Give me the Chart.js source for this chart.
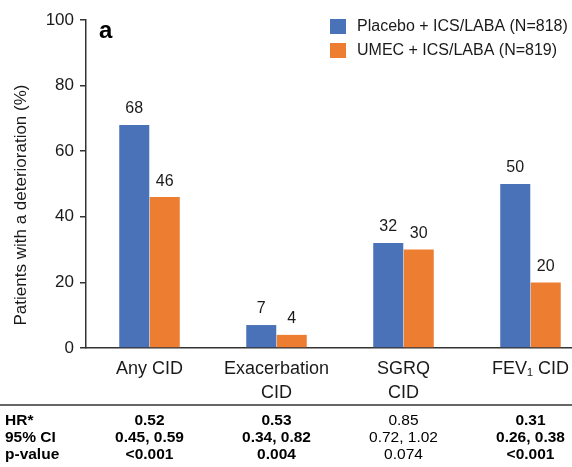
<!DOCTYPE html>
<html>
<head>
<meta charset="utf-8">
<script src="https://cdn.jsdelivr.net/npm/chart.js@4.4.1/dist/chart.umd.min.js"></script>
<style>
html,body{margin:0;padding:0;background:#fff;overflow:hidden;}
#wrap{width:572px;height:467px;overflow:hidden;position:relative;}
canvas{display:block;}
</style>
</head>
<body>
<div id="wrap"><canvas id="c" width="600" height="467" style="width:600px;height:467px"></canvas></div>
<script>
const categories = [['Any CID'], ['Exacerbation', 'CID'], ['SGRQ', 'CID'], ['FEV\u2081 CID']];
const placeboValues = [68, 7, 32, 50];
const umecValues = [46, 4, 30, 20];
const seriesLabels = ['Placebo + ICS/LABA (N=818)', 'UMEC + ICS/LABA (N=819)'];
const yTicks = [0, 20, 40, 60, 80, 100];
const yTitle = 'Patients with a deterioration (%)';
const rowLabels = ['HR*', '95% CI', 'p-value'];
const hrValues = ['0.52', '0.53', '0.85', '0.31'];
const ciValues = ['0.45, 0.59', '0.34, 0.82', '0.72, 1.02', '0.26, 0.38'];
const pValues = ['<0.001', '0.004', '0.074', '<0.001'];

const BLUE = '#4a72b8';
const ORANGE = '#ed7d31';
const INK = '#1a1a1a';
const FONT = '"Liberation Sans", Arial, Helvetica, sans-serif';

const extras = {
  id: 'extras',
  afterDatasetsDraw(chart) {
    const ctx = chart.ctx;
    ctx.save();
    ctx.fillStyle = INK;
    ctx.font = '16px ' + FONT;
    ctx.textAlign = 'center';
    ctx.textBaseline = 'middle';
    chart.data.datasets.forEach((ds, di) => {
      chart.getDatasetMeta(di).data.forEach((bar, i) => {
        ctx.fillText(String(ds.data[i]), bar.x, bar.y - 16);
      });
    });
    ctx.restore();
  },
  afterDraw(chart) {
    const ctx = chart.ctx;
    const xs = chart.scales.x;
    const ys = chart.scales.y;
    ctx.save();
    // y-axis title
    ctx.save();
    ctx.translate(21, 205);
    ctx.rotate(-Math.PI / 2);
    ctx.fillStyle = INK;
    ctx.font = '17px ' + FONT;
    ctx.textAlign = 'center';
    ctx.textBaseline = 'middle';
    ctx.fillText(yTitle, 0, 0);
    ctx.restore();
    // panel letter
    ctx.fillStyle = '#000';
    ctx.font = 'bold 24px ' + FONT;
    ctx.textAlign = 'left';
    ctx.textBaseline = 'middle';
    ctx.fillText('a', 99, 31);
    // legend
    ctx.font = '16px ' + FONT;
    chart.data.datasets.forEach((ds, di) => {
      const y = 19 + di * 24;
      ctx.fillStyle = ds.backgroundColor;
      ctx.fillRect(330, y, 16, 15);
      ctx.fillStyle = INK;
      ctx.fillText(ds.label, 357, y + 8);
    });
    // table separator
    ctx.strokeStyle = '#333';
    ctx.lineWidth = 1.3;
    ctx.beginPath();
    ctx.moveTo(0, 405);
    ctx.lineTo(572, 405);
    ctx.stroke();
    // table
    const rows = [hrValues, ciValues, pValues];
    rows.forEach((row, r) => {
      const y = 421 + r * 17;
      ctx.fillStyle = '#000';
      ctx.textAlign = 'left';
      ctx.font = 'bold 15.5px ' + FONT;
      ctx.fillText(rowLabels[r], 5, y);
      ctx.textAlign = 'center';
      row.forEach((txt, i) => {
        const p = parseFloat(pValues[i].replace('<', ''));
        const sig = pValues[i].startsWith('<') || p < 0.05;
        ctx.font = (sig ? 'bold ' : '') + '15.5px ' + FONT;
        ctx.fillText(txt, xs.getPixelForValue(i), y);
      });
    });
    ctx.restore();
  }
};

new Chart(document.getElementById('c'), {
  type: 'bar',
  data: {
    labels: categories,
    datasets: [
      { label: seriesLabels[0], data: placeboValues, backgroundColor: BLUE },
      { label: seriesLabels[1], data: umecValues, backgroundColor: ORANGE }
    ]
  },
  options: {
    responsive: false,
    animation: false,
    devicePixelRatio: 1,
    layout: { padding: { top: 20, right: 6, left: 0, bottom: 0 } },
    plugins: { legend: { display: false }, tooltip: { enabled: false } },
    datasets: { bar: { categoryPercentage: 0.48, barPercentage: 0.985 } },
    scales: {
      x: {
        grid: { display: false, drawTicks: false },
        border: { display: true, color: '#333', width: 1.5 },
        ticks: { color: INK, font: { family: FONT, size: 18, lineHeight: 1.35 }, padding: 9, maxRotation: 0, autoSkip: false },
        afterFit(s) { s.height = 119; }
      },
      y: {
        min: 0, max: 100,
        afterBuildTicks(s) { s.ticks = yTicks.map(v => ({ value: v })); },
        grid: { drawOnChartArea: false, drawTicks: true, tickLength: 6, color: '#333', lineWidth: 1.5 },
        border: { display: true, color: '#333', width: 1.5 },
        ticks: { color: INK, font: { family: FONT, size: 17 }, padding: 6 },
        title: { display: false },
        afterFit(s) { s.width = 86; }
      }
    }
  },
  plugins: [extras]
});
</script>
</body>
</html>
